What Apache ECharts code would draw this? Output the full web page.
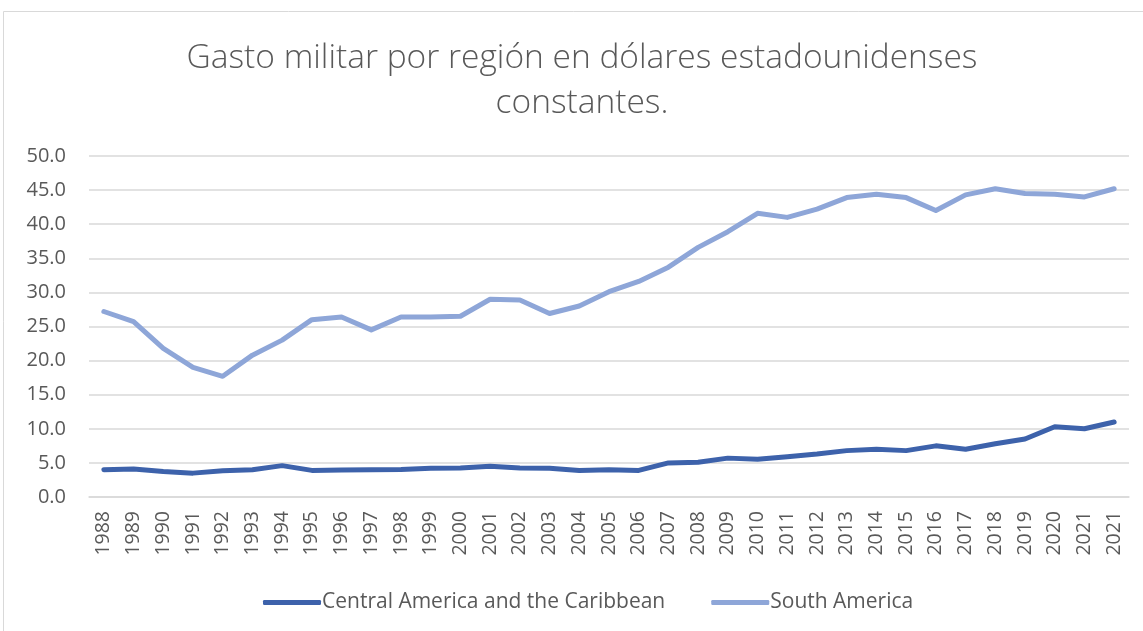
<!DOCTYPE html>
<html><head><meta charset="utf-8">
<script src="https://cdn.jsdelivr.net/npm/echarts@6/dist/echarts.min.js"></script>
<style>html,body{margin:0;padding:0;background:#fff}#c{width:1143px;height:631px}</style>
</head><body><div id="c"></div>
<script>
const years = ['1988','1989','1990','1991','1992','1993','1994','1995','1996','1997','1998','1999','2000','2001','2002','2003','2004','2005','2006','2007','2008','2009','2010','2011','2012','2013','2014','2015','2016','2017','2018','2019','2020','2021','2021'];
const centralAmerica = [4.0,4.1,3.75,3.5,3.85,4.0,4.6,3.9,3.95,4.0,4.05,4.2,4.25,4.5,4.25,4.2,3.9,4.0,3.9,5.0,5.1,5.7,5.55,5.9,6.3,6.8,7.0,6.8,7.5,7.0,7.8,8.5,10.3,10.0,11.0];
const southAmerica = [27.2,25.7,21.8,19.0,17.7,20.8,23.0,26.0,26.4,24.5,26.4,26.4,26.5,29.0,28.9,26.9,28.0,30.1,31.6,33.7,36.6,38.9,41.6,41.0,42.2,43.9,44.4,43.9,42.0,44.3,45.2,44.5,44.4,44.0,45.2];
const seriesNames = ['Central America and the Caribbean','South America'];
const titleText = 'Gasto militar por región en dólares estadounidenses\nconstantes.';

const chart = echarts.init(document.getElementById('c'), null, {renderer:'canvas'});
const txt = '#595959';
const font = "'Open Sans', 'Liberation Sans', sans-serif";
chart.setOption({
  backgroundColor:'#ffffff',
  animation:false,
  graphic:[{type:'rect', shape:{x:3.5,y:11.5,width:1145,height:630}, style:{fill:'none', stroke:'#d9d9d9', lineWidth:1}, silent:true}],
  title:{text:titleText, left:577, top:31, textAlign:'center',
    textStyle:{color:txt, fontSize:33.5, fontWeight:300, fontFamily:font, lineHeight:45}},
  legend:{bottom:13, left:258, itemWidth:58, itemHeight:5, itemGap:46, icon:'roundRect',
    textStyle:{color:txt, fontSize:21, fontFamily:font, padding:[0,0,0,-4]},
    data:seriesNames},
  grid:{left:89, right:14, top:156, bottom:134, containLabel:false},
  xAxis:{type:'category', data:years, boundaryGap:true,
    axisLine:{show:true, lineStyle:{color:'#d9d9d9', width:1.5}},
    axisTick:{show:false},
    axisLabel:{rotate:90, color:txt, fontSize:19.5, fontFamily:font, interval:0, margin:14}},
  yAxis:{type:'value', min:0, max:50, interval:5,
    axisLine:{show:false}, axisTick:{show:false},
    splitLine:{lineStyle:{color:'#d9d9d9', width:1.5}},
    axisLabel:{color:txt, fontSize:20, fontFamily:font, margin:23, formatter:v=>v.toFixed(1)}},
  series:[
    {name:seriesNames[0], type:'line', data:centralAmerica, symbol:'none', color:'#3d62ab',
      lineStyle:{width:5, color:'#3d62ab', cap:'round', join:'round'}},
    {name:seriesNames[1], type:'line', data:southAmerica, symbol:'none', color:'#8ea6d8',
      lineStyle:{width:5, color:'#8ea6d8', cap:'round', join:'round'}}
  ]
});
</script></body></html>
